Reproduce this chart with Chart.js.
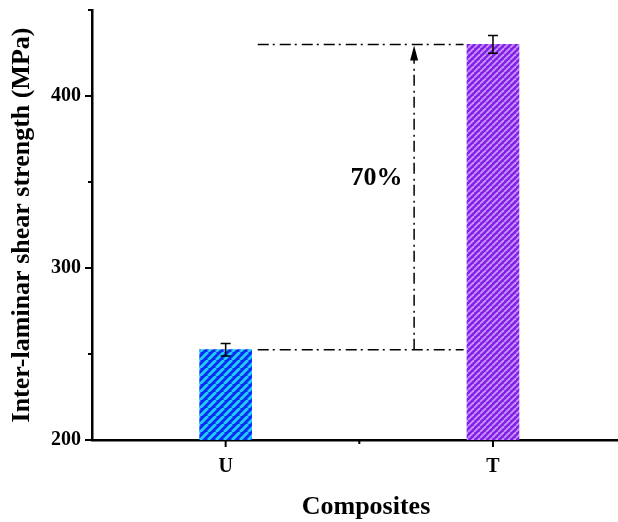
<!DOCTYPE html>
<html>
<head>
<meta charset="utf-8">
<script src="https://cdn.jsdelivr.net/npm/chart.js@4/dist/chart.umd.min.js"></script>
<style>
  html, body { margin: 0; padding: 0; background: #fff; overflow: hidden; width: 618px; height: 522px; }
  canvas { display: block; }
</style>
</head>
<body>
<canvas id="c" width="640" height="522"></canvas>
<script>
// ---- data ----
const categories = ['U', 'T'];
const categoryPositions = [1, 2];
const strengthValues = [252.5, 430];
const strengthErrors = [3.6, 5.2];
const yMajorTicks = [200, 300, 400];
const yMinorTicks = [250, 350, 450];
const xMinorTicks = [1.5, 2.5];
const yRange = [200, 450];
const xRange = [0.5, 2.55];
const increaseLabel = '70%';
// annotation anchors (data units)
const guideStartX = 1.12;
const guideEndX = 1.89;
const arrowX = 1.705;
const labelPos = [1.564, 352];

const FONT = "'Liberation Serif', 'Times New Roman', serif";

function stripes(bg, fg, period, width) {
  const c = document.createElement('canvas');
  c.width = period; c.height = period;
  const g = c.getContext('2d');
  g.fillStyle = bg; g.fillRect(0, 0, period, period);
  g.strokeStyle = fg; g.lineWidth = width;
  for (const o of [-period, 0, period]) {
    g.beginPath(); g.moveTo(o, period); g.lineTo(o + period, 0); g.stroke();
  }
  return g.createPattern(c, 'repeat');
}

const barFills = [
  stripes('#0a2cf0', '#20cdfb', 8, 2.8),
  stripes('#8420e6', '#c896ff', 6, 1.8)
];

const errorBars = {
  id: 'errorBars',
  afterDatasetsDraw(chart) {
    const { ctx, scales: { x, y } } = chart;
    ctx.save();
    ctx.strokeStyle = '#000';
    ctx.lineWidth = 1.5;
    strengthValues.forEach((v, i) => {
      const px = x.getPixelForValue(categoryPositions[i]);
      const t = y.getPixelForValue(v + strengthErrors[i]);
      const b = y.getPixelForValue(v - strengthErrors[i]);
      ctx.beginPath();
      ctx.moveTo(px, t); ctx.lineTo(px, b);
      ctx.moveTo(px - 5, t); ctx.lineTo(px + 5, t);
      ctx.moveTo(px - 5, b); ctx.lineTo(px + 5, b);
      ctx.stroke();
    });
    ctx.restore();
  }
};

const annotation = {
  id: 'annotation',
  afterDatasetsDraw(chart) {
    const { ctx, scales: { x, y } } = chart;
    const x0 = x.getPixelForValue(guideStartX);
    const x1 = x.getPixelForValue(guideEndX);
    const yLow = y.getPixelForValue(strengthValues[0]);
    const yHigh = y.getPixelForValue(strengthValues[1]);
    const ax = x.getPixelForValue(arrowX);
    ctx.save();
    ctx.strokeStyle = '#000';
    ctx.fillStyle = '#000';
    ctx.lineWidth = 1.5;
    ctx.setLineDash([11, 4, 2, 5]);
    ctx.beginPath();
    ctx.moveTo(x0, yLow); ctx.lineTo(x1, yLow);
    ctx.moveTo(x0, yHigh); ctx.lineTo(x1, yHigh);
    ctx.stroke();
    ctx.beginPath();
    ctx.moveTo(ax, yLow); ctx.lineTo(ax, yHigh + 14);
    ctx.stroke();
    ctx.setLineDash([]);
    ctx.beginPath();
    ctx.moveTo(ax, yHigh + 1);
    ctx.lineTo(ax - 4, yHigh + 16);
    ctx.lineTo(ax + 4, yHigh + 16);
    ctx.closePath();
    ctx.fill();
    ctx.font = 'bold 26px ' + FONT;
    ctx.textAlign = 'center';
    ctx.textBaseline = 'middle';
    ctx.fillText(increaseLabel, x.getPixelForValue(labelPos[0]), y.getPixelForValue(labelPos[1]));
    ctx.restore();
  }
};

const tickMarks = {
  id: 'tickMarks',
  afterDraw(chart) {
    const { ctx, scales: { x, y }, chartArea: a } = chart;
    ctx.save();
    ctx.strokeStyle = '#000';
    ctx.lineWidth = 2;
    ctx.beginPath();
    yMajorTicks.forEach(v => { const py = y.getPixelForValue(v); ctx.moveTo(a.left, py); ctx.lineTo(a.left - 7, py); });
    yMinorTicks.forEach(v => { const py = y.getPixelForValue(v); ctx.moveTo(a.left, py); ctx.lineTo(a.left - 4, py); });
    categoryPositions.forEach(v => { const px = x.getPixelForValue(v); ctx.moveTo(px, a.bottom); ctx.lineTo(px, a.bottom + 7); });
    xMinorTicks.forEach(v => { const px = x.getPixelForValue(v); ctx.moveTo(px, a.bottom); ctx.lineTo(px, a.bottom + 4); });
    ctx.stroke();
    ctx.restore();
  }
};

new Chart(document.getElementById('c'), {
  type: 'bar',
  data: {
    datasets: [{
      data: categoryPositions.map((p, i) => ({ x: p, y: strengthValues[i] })),
      backgroundColor: barFills,
      borderWidth: 0,
      barThickness: 52,
      base: yRange[0]
    }]
  },
  options: {
    responsive: false,
    animation: false,
    devicePixelRatio: 1,
    layout: { padding: { top: 10, right: 0, left: 0, bottom: 0 } },
    plugins: { legend: { display: false }, tooltip: { enabled: false } },
    scales: {
      x: {
        type: 'linear',
        min: xRange[0], max: xRange[1],
        offset: false,
        afterBuildTicks: s => { s.ticks = categoryPositions.map(v => ({ value: v })); },
        afterFit: s => { s.height = 82; s.paddingLeft = 0; s.paddingRight = 0; },
        grid: { display: false, drawTicks: false, offset: false },
        border: { display: true, color: '#000', width: 2.5 },
        ticks: {
          padding: 15,
          color: '#000',
          font: { family: FONT, size: 20, weight: 'bold' },
          callback: v => categories[categoryPositions.indexOf(v)]
        },
        title: {
          display: true, text: 'Composites', color: '#000',
          font: { family: FONT, size: 26, weight: 'bold', lineHeight: 1 },
          padding: { top: 0, bottom: 2 }
        }
      },
      y: {
        min: yRange[0], max: yRange[1],
        afterBuildTicks: s => { s.ticks = yMajorTicks.map(v => ({ value: v })); },
        afterFit: s => { s.width = 92; s.paddingTop = 0; s.paddingBottom = 0; },
        grid: { display: false, drawTicks: false },
        border: { display: true, color: '#000', width: 2.5 },
        ticks: {
          padding: 11,
          color: '#000',
          font: { family: FONT, size: 20, weight: 'bold', lineHeight: 1 }
        },
        title: {
          display: true, text: 'Inter-laminar shear strength (MPa)', color: '#000',
          font: { family: FONT, size: 26, weight: 'bold', lineHeight: 1.2 },
          padding: { top: 7, bottom: 0 }
        }
      }
    }
  },
  plugins: [errorBars, annotation, tickMarks]
});
</script>
</body>
</html>
